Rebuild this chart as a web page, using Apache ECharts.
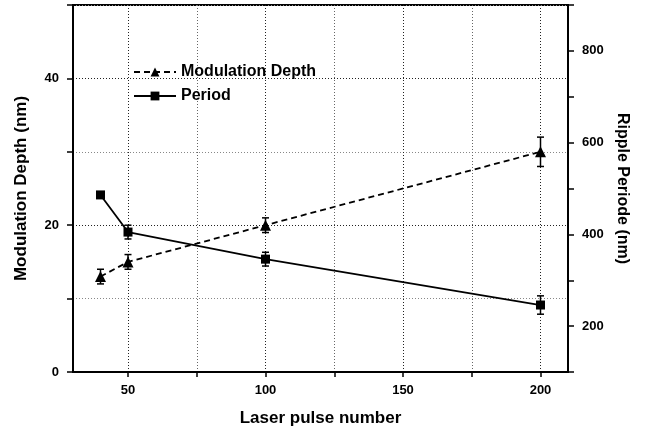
<!DOCTYPE html>
<html>
<head>
<meta charset="utf-8">
<script src="https://cdn.jsdelivr.net/npm/echarts@6/dist/echarts.min.js"></script>
<style>
  html, body { margin: 0; padding: 0; background: #fff; }
  #chart { width: 648px; height: 432px; }
</style>
</head>
<body>
<div id="chart"></div>
<script>
// data
var pulses = [40, 50, 100, 200];
var depth = [13, 15, 20, 30];
var depthErr = [1, 1, 1, 2];
var period = [486, 405, 346, 246];
var periodErr = [0, 15, 15, 20];
var xTicks = [50, 75, 100, 125, 150, 175, 200];
var xLabels = [50, 100, 150, 200];

(function(){
  var myChart = echarts.init(document.getElementById('chart'));
  var font = "'Liberation Sans', Arial, sans-serif";

  function pairs(ys){
    return pulses.map(function(x, i){ return [x, ys[i]]; });
  }
  function errData(ys, es){
    return pulses.map(function(x, i){ return [x, ys[i] - es[i], ys[i] + es[i]]; });
  }
  // error bars drawn through the axis scales
  function errBar(params, api){
    var lo = api.coord([api.value(0), api.value(1)]);
    var hi = api.coord([api.value(0), api.value(2)]);
    if (Math.abs(lo[1] - hi[1]) < 1) return null;
    var w = 3.5;
    var st = { stroke: '#000', lineWidth: 1.5 };
    return {
      type: 'group',
      children: [
        { type: 'line', shape: { x1: lo[0], y1: lo[1], x2: hi[0], y2: hi[1] }, style: st },
        { type: 'line', shape: { x1: lo[0] - w, y1: lo[1], x2: lo[0] + w, y2: lo[1] }, style: st },
        { type: 'line', shape: { x1: hi[0] - w, y1: hi[1], x2: hi[0] + w, y2: hi[1] }, style: st }
      ]
    };
  }

  var labelStyle = { color: '#000', fontFamily: font, fontWeight: 'bold', fontSize: 13 };
  var nameStyle = { color: '#000', fontFamily: font, fontWeight: 'bold', fontSize: 17 };

  var option = {
    animation: false,
    backgroundColor: '#fff',
    grid: {
      left: 73, right: 80, top: 5, bottom: 59,
      show: true, borderColor: '#000', borderWidth: 2
    },
    legend: {
      orient: 'vertical',
      left: 133, top: 64, padding: 0,
      itemWidth: 42, itemHeight: 11, itemGap: 8,
      textStyle: { color: '#000', fontFamily: font, fontSize: 16, fontWeight: 'bold', padding: [0, 0, 0, 0] },
      data: ['Modulation Depth', 'Period']
    },
    xAxis: {
      type: 'value',
      min: 30, max: 210,
      name: 'Laser pulse number',
      nameLocation: 'middle', nameGap: 38,
      nameTextStyle: nameStyle,
      axisLine: { lineStyle: { color: '#000', width: 2 } },
      axisTick: { customValues: xTicks, length: 5, lineStyle: { color: '#000', width: 1.5 } },
      axisLabel: Object.assign({ customValues: xLabels, margin: 12 }, labelStyle),
      splitLine: { show: true, lineStyle: { color: ['#222', '#666'], type: [1, 2], width: 1 } }
    },
    yAxis: [
      {
        type: 'value',
        min: 0, max: 50, interval: 10,
        name: 'Modulation Depth (nm)',
        nameLocation: 'middle', nameGap: 43,
        nameTextStyle: nameStyle,
        axisLine: { show: true, lineStyle: { color: '#000', width: 2 } },
        axisTick: { show: true, length: 6, lineStyle: { color: '#000', width: 1.5 } },
        axisLabel: Object.assign({
          margin: 14,
          formatter: function(v){ return v % 20 === 0 ? v : ''; }
        }, labelStyle),
        splitLine: { show: true, lineStyle: { color: ['#222', '#888'], type: [1, 2], width: 1 } }
      },
      {
        type: 'value',
        min: 100, max: 900, interval: 100,
        position: 'right',
        name: 'Ripple Periode (nm)',
        nameLocation: 'middle', nameGap: 46, nameRotate: -90,
        nameTextStyle: Object.assign({}, nameStyle, { fontSize: 16 }),
        axisLine: { show: true, lineStyle: { color: '#000', width: 2 } },
        axisTick: { show: true, length: 6, lineStyle: { color: '#000', width: 1.5 } },
        axisLabel: Object.assign({
          margin: 14,
          formatter: function(v){ return v % 200 === 0 && v < 900 ? v : ''; }
        }, labelStyle),
        splitLine: { show: false }
      }
    ],
    series: [
      {
        name: 'Modulation Depth',
        type: 'line',
        yAxisIndex: 0,
        data: pairs(depth),
        symbol: 'triangle', symbolSize: 11,
        itemStyle: { color: '#000' },
        lineStyle: { color: '#000', width: 1.8, type: [6, 4] },
        z: 3
      },
      {
        name: 'Period',
        type: 'line',
        yAxisIndex: 1,
        data: pairs(period),
        symbol: 'rect', symbolSize: 9,
        itemStyle: { color: '#000' },
        lineStyle: { color: '#000', width: 1.8 },
        z: 3
      },
      {
        type: 'custom',
        yAxisIndex: 0,
        renderItem: errBar,
        encode: { x: 0, y: [1, 2] },
        data: errData(depth, depthErr),
        z: 4
      },
      {
        type: 'custom',
        yAxisIndex: 1,
        renderItem: errBar,
        encode: { x: 0, y: [1, 2] },
        data: errData(period, periodErr),
        z: 4
      }
    ]
  };

  myChart.setOption(option);
  window.addEventListener('resize', function(){
    myChart.resize();
  });
})();
</script>
</body>
</html>
